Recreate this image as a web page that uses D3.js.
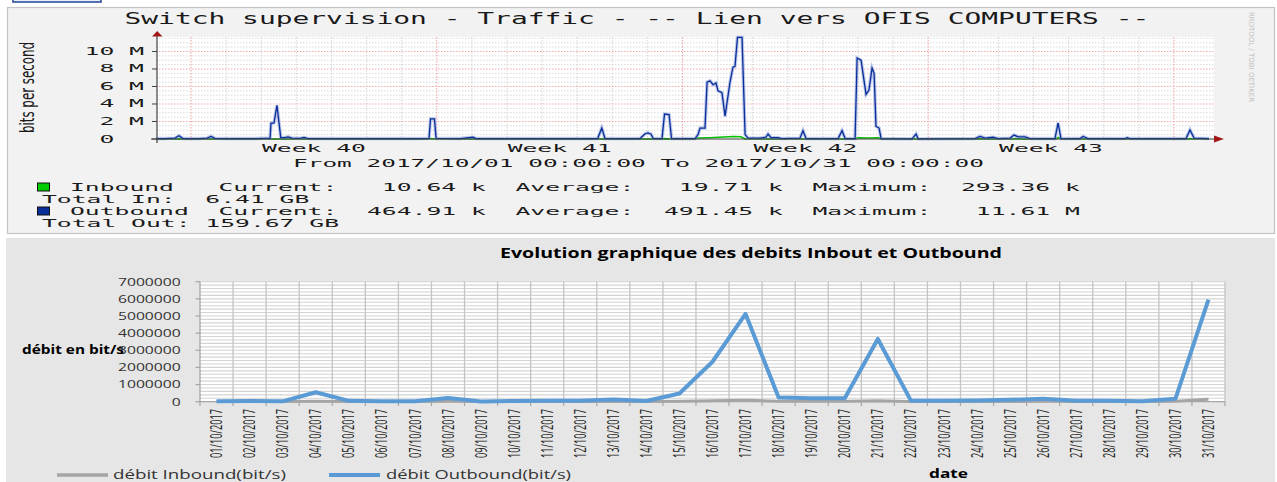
<!DOCTYPE html>
<html><head><meta charset="utf-8">
<script src="https://cdn.jsdelivr.net/npm/d3@7"></script>
<style>body{margin:0;background:#fff}svg{display:block}text{white-space:pre}</style>
</head><body><svg id="c" width="1277" height="482"></svg>
<script>
// ---------------- TOP (RRDtool) DATA ----------------
const topTitle = "Switch supervision - Traffic - -- Lien vers OFIS COMPUTERS --";
const topYLabel = "bits per second";
const topPeriod = "From 2017/10/01 00:00:00 To 2017/10/31 00:00:00";
const topYTicks = [0, 2e6, 4e6, 6e6, 8e6, 10e6];
const topYTickLabels = ["0", "2 M", "4 M", "6 M", "8 M", "10 M"];
const weekLabels = ["Week 40", "Week 41", "Week 42", "Week 43"];
const weekCenterHours = [108, 276, 444, 612];       // hours since 2017-10-01 00:00
const weekStartHours = [24, 192, 360, 528, 696];    // Mondays 00:00
// outbound, hours since 2017-10-01 00:00 and bits/s
const outHours = [0,6,13,15.7,18.5,30,35,37.6,40.3,47,68,75,78,78.6,80.7,82.7,85.3,88,90.3,93,98.5,101.2,104,126,153,180,186.7,187.7,190.4,191.5,208,216.8,218.8,256,302,304.8,307,331,334.4,336.4,338.5,340,346,347.7,350.8,352.5,368.6,370.6,372,375.4,376.8,378.8,380.9,382.9,384.3,387,389.1,392.5,394.5,395.9,397.6,400.7,402.8,404.8,413,417.1,418.5,420.5,425.3,428,440.3,442.4,444.5,466.4,469.1,471.2,478,479.4,482.1,485.5,487.5,489.6,491,492.3,494.4,495.8,517,519.7,521.1,560,563.5,566.9,572.3,575.8,584,586.7,589.4,594.2,597.6,614.7,616.8,618.8,631.8,633.9,637.3,662.6,664,666,704.3,707,709.8,720];
const outBps = [50000,50000,100000,380000,50000,50000,100000,300000,80000,50000,50000,80000,80000,1800000,1850000,3850000,150000,150000,250000,100000,80000,180000,50000,50000,50000,50000,80000,2300000,2300000,80000,50000,200000,50000,50000,50000,1260000,50000,50000,600000,700000,550000,50000,50000,2850000,2800000,50000,50000,500000,1250000,1250000,6500000,6650000,6200000,6400000,5500000,5300000,2600000,6500000,8200000,8300000,11610000,11610000,500000,100000,100000,200000,570000,150000,150000,50000,100000,950000,50000,50000,950000,50000,50000,9250000,9000000,5100000,5600000,8100000,7500000,1450000,1250000,50000,20000,570000,20000,50000,300000,100000,200000,50000,100000,450000,250000,250000,50000,50000,1830000,50000,50000,300000,50000,50000,150000,50000,50000,1030000,100000,50000];
const inHours = [0,14,16,18,186,188,191,300,346,348,352,368,371,378,385,395,400,403,478,480,487,494,496,560,563,566,586,588,591,615,617,619,706,707,709,720];
const inBps = [8000,8000,30000,8000,8000,50000,8000,8000,8000,40000,8000,8000,120000,150000,200000,293360,250000,8000,8000,150000,120000,150000,8000,8000,40000,8000,8000,60000,8000,8000,180000,8000,8000,60000,8000,8000];
const legendNames = ["Inbound", "Outbound"];
const legendCurrent = ["10.64 k", "464.91 k"];
const legendAverage = ["19.71 k", "491.45 k"];
const legendMaximum = ["293.36 k", "11.61 M"];
const totalLabels = ["Total In:", "Total Out:"];
const totalValues = ["6.41 GB", "159.67 GB"];
const legendColors = ["#00CC00", "#0A2E9A"];

// ---------------- BOTTOM (Excel) DATA ----------------
const bottomTitle = "Evolution graphique des debits Inbout et Outbound";
const dates = ["01/10/2017","02/10/2017","03/10/2017","04/10/2017","05/10/2017","06/10/2017","07/10/2017","08/10/2017","09/10/2017","10/10/2017","11/10/2017","12/10/2017","13/10/2017","14/10/2017","15/10/2017","16/10/2017","17/10/2017","18/10/2017","19/10/2017","20/10/2017","21/10/2017","22/10/2017","23/10/2017","24/10/2017","25/10/2017","26/10/2017","27/10/2017","28/10/2017","29/10/2017","30/10/2017","31/10/2017"];
const inboundDaily = [10000,12000,8000,30000,10000,8000,8000,20000,6000,10000,12000,12000,15000,10000,30000,60000,90000,25000,20000,20000,50000,10000,10000,12000,15000,20000,10000,10000,8000,30000,140000];
const outboundDaily = [30000,40000,20000,550000,50000,20000,20000,220000,10000,40000,50000,50000,130000,40000,480000,2330000,5120000,240000,200000,200000,3660000,60000,50000,70000,110000,170000,60000,50000,30000,170000,5950000];
const bottomYTicks = [0,1000000,2000000,3000000,4000000,5000000,6000000,7000000];
const seriesNames = ["débit Inbound(bit/s)", "débit Outbound(bit/s)"];
const seriesColors = ["#A5A5A5", "#5B9BD5"];

// ======================================================
const svg = d3.select("#c");
const MONO = "'DejaVu Sans Mono', monospace";
const CW = 14.85; // stretched monospace cell width

function monoText(g, str, x, y, size, cw, anchor) {
  return g.append("text").attr("x", x).attr("y", y)
    .attr("font-family", MONO).attr("font-size", size).attr("fill", "#1a1a1a")
    .attr("text-anchor", anchor || "start")
    .attr("textLength", str.length * cw).attr("lengthAdjust", "spacingAndGlyphs")
    .attr("xml:space", "preserve").text(str);
}

// ---------- TOP PANEL ----------
const topG = svg.append("g");
topG.append("rect").attr("x", 13).attr("y", -5).attr("width", 88).attr("height", 7)
  .attr("fill", "#E8EEF8").attr("stroke", "#2E4E9E").attr("stroke-width", 1.6);
topG.append("rect").attr("x", 7.5).attr("y", 7.5).attr("width", 1267).attr("height", 226)
  .attr("fill", "#F2F2F2").attr("stroke", "#C4C4C4").attr("stroke-width", 1.2);

const xT = d3.scaleLinear().domain([0, 720]).range([156, 1209]);
const yT = d3.scaleLinear().domain([0, 11.62e6]).range([139, 37.3]);

topG.append("rect").attr("x", 156).attr("y", 37).attr("width", 1058).attr("height", 102).attr("fill", "#FFFFFF");

// grid
const minorY = d3.range(5e5, 11.62e6, 5e5).filter(v => v % 2e6 !== 0);
const majorY = d3.range(2e6, 11.62e6, 2e6);
topG.selectAll(".gym").data(minorY).join("line")
  .attr("x1", 156).attr("x2", 1214).attr("y1", d => yT(d)).attr("y2", d => yT(d))
  .attr("stroke", "#D6D6D6").attr("stroke-width", 0.9).attr("stroke-dasharray", "1.5,1.5");
const dayHours = d3.range(24, 720, 24).filter(h => !weekStartHours.includes(h));
topG.selectAll(".gxm").data(dayHours).join("line")
  .attr("x1", d => xT(d)).attr("x2", d => xT(d)).attr("y1", 37).attr("y2", 139)
  .attr("stroke", "#D0D0D0").attr("stroke-width", 0.9).attr("stroke-dasharray", "1.5,1.5");
topG.selectAll(".gyM").data(majorY).join("line")
  .attr("x1", 156).attr("x2", 1214).attr("y1", d => yT(d)).attr("y2", d => yT(d))
  .attr("stroke", "#F0A8A8").attr("stroke-width", 1).attr("stroke-dasharray", "1.5,1.5");
topG.selectAll(".gxM").data(weekStartHours).join("line")
  .attr("x1", d => xT(d)).attr("x2", d => xT(d)).attr("y1", 37).attr("y2", 141)
  .attr("stroke", "#F0A0A0").attr("stroke-width", 1).attr("stroke-dasharray", "1.5,1.5");

// series
const lineIn = d3.line().x((d, i) => xT(inHours[i])).y(d => yT(d));
const lineOut = d3.line().x((d, i) => xT(outHours[i])).y(d => yT(d));
topG.append("path").attr("d", lineIn(inBps)).attr("fill", "none").attr("stroke", "#00C000").attr("stroke-width", 1.6);
topG.append("path").attr("d", lineOut(outBps)).attr("fill", "none").attr("stroke", "#8EA2DA").attr("stroke-width", 3.4).attr("stroke-opacity", 0.6);
topG.append("path").attr("d", lineOut(outBps)).attr("fill", "none").attr("stroke", "#0A2E9A").attr("stroke-width", 1.3);

// axes
topG.append("line").attr("x1", 151).attr("x2", 1214).attr("y1", 139).attr("y2", 139).attr("stroke", "#404040").attr("stroke-width", 1.2);
topG.append("line").attr("x1", 157).attr("x2", 157).attr("y1", 143).attr("y2", 36).attr("stroke", "#404040").attr("stroke-width", 1.2);
topG.append("path").attr("d", "M152,36.5 L162.5,36.5 L157.2,31 Z").attr("fill", "#A01818");
topG.append("path").attr("d", "M1214,135.5 L1214,142.5 L1224,139 Z").attr("fill", "#A01818");
topG.selectAll(".ytm").data(topYTicks).join("line")
  .attr("x1", 152).attr("x2", 157).attr("y1", d => yT(d)).attr("y2", d => yT(d)).attr("stroke", "#404040");

// y tick labels
topYTicks.forEach((v, i) => {
  const lab = topYTickLabels[i];
  const endX = lab === "0" ? 144 - 2 * CW : 144;
  monoText(topG, lab, endX, yT(v) + 3.5, 9.8, CW, "end");
});
// y label
topG.append("text").attr("transform", "translate(33.5,87.5) scale(2,1) rotate(-90)")
  .attr("text-anchor", "middle").attr("font-family", "'DejaVu Sans', sans-serif").attr("font-size", 10)
  .attr("fill", "#1a1a1a").attr("textLength", 91).attr("lengthAdjust", "spacingAndGlyphs").text(topYLabel);

// title
monoText(topG, topTitle, 124.5, 24, 15, 16.8, "start");
weekLabels.forEach((w, i) => monoText(topG, w, xT(weekCenterHours[i]), 152, 10.8, CW, "middle"));
monoText(topG, topPeriod, 293, 167, 11, 14.7, "start");

// rrdtool watermark
topG.append("text").attr("transform", "translate(1249,12) rotate(90)")
  .attr("font-family", "'DejaVu Sans', sans-serif").attr("font-size", 7).attr("fill", "#BDBDBD")
  .attr("textLength", 90).attr("lengthAdjust", "spacingAndGlyphs").text("RRDTOOL / TOBI OETIKER");

// legend
const legBase = [191, 215];
const totBase = [203, 226.5];
legendNames.forEach((n, i) => {
  topG.append("rect").attr("x", 37.5).attr("y", legBase[i] - 8).attr("width", 12).attr("height", 8)
    .attr("fill", legendColors[i]).attr("stroke", "#111").attr("stroke-width", 1);
  const line = n.padEnd(10) + "Current:" + legendCurrent[i].padStart(10) + "  Average:" +
    legendAverage[i].padStart(10) + "  Maximum:" + legendMaximum[i].padStart(10);
  monoText(topG, line, 70, legBase[i], 11.3, CW, "start");
  const tl = totalLabels[i].padEnd(11) + totalValues[i];
  monoText(topG, tl, 42, totBase[i], 11.3, CW, "start");
});

// ---------- BOTTOM PANEL ----------
const bot = svg.append("g");
bot.append("rect").attr("x", 6).attr("y", 238).attr("width", 1269).attr("height", 244).attr("fill", "#E6E6E6");
const OPEN = "'Open Sans', sans-serif";

const xB = d3.scaleBand().domain(dates).range([200, 1225]);
const yB = d3.scaleLinear().domain([0, 7000000]).range([401.7, 281.7]);

bot.append("rect").attr("x", 200).attr("y", 281.7).attr("width", 1025).attr("height", 120).attr("fill", "#FFFFFF");
const minorB = d3.range(200000, 7000001, 200000);
bot.selectAll(".bgy").data(minorB).join("line")
  .attr("x1", 200).attr("x2", 1225).attr("y1", d => yB(d)).attr("y2", d => yB(d))
  .attr("stroke", "#D3D3D3").attr("stroke-width", 1.1);
const bounds = dates.map(d => xB(d)).concat([xB.range()[1]]);
bot.selectAll(".bgx").data(bounds.slice(1)).join("line")
  .attr("x1", d => d).attr("x2", d => d).attr("y1", 281.7).attr("y2", 401.7)
  .attr("stroke", "#C4C4C4").attr("stroke-width", 1.3);
bot.append("line").attr("x1", 200).attr("x2", 200).attr("y1", 281.7).attr("y2", 401.7).attr("stroke", "#A6A6A6").attr("stroke-width", 1.3);
bot.append("line").attr("x1", 200).attr("x2", 1225).attr("y1", 401.7).attr("y2", 401.7).attr("stroke", "#A6A6A6").attr("stroke-width", 1.3);
bot.selectAll(".ytk").data(bottomYTicks).join("line")
  .attr("x1", 195.5).attr("x2", 200).attr("y1", d => yB(d)).attr("y2", d => yB(d)).attr("stroke", "#A6A6A6").attr("stroke-width", 1.2);
bot.selectAll(".xtk").data(bounds).join("line")
  .attr("x1", d => d).attr("x2", d => d).attr("y1", 401.7).attr("y2", 406).attr("stroke", "#A6A6A6").attr("stroke-width", 1.2);

bot.selectAll(".ylb").data(bottomYTicks).join("text")
  .attr("x", 180.7).attr("y", d => yB(d) + 3.8).attr("text-anchor", "end")
  .attr("font-family", OPEN).attr("font-size", 10.8).attr("fill", "#333")
  .attr("textLength", d => String(d).length * 8.96).attr("lengthAdjust", "spacingAndGlyphs")
  .text(d => d3.format("d")(d));
bot.selectAll(".xlb").data(dates).join("text")
  .attr("transform", d => `translate(${xB(d) + xB.bandwidth() / 2 + 5.6},409) scale(1.5,1) rotate(-90)`)
  .attr("text-anchor", "end").attr("font-family", OPEN).attr("font-size", 10.5).attr("fill", "#222")
  .attr("textLength", 49).attr("lengthAdjust", "spacingAndGlyphs").text(d => d);

const cx = d => xB(d) + xB.bandwidth() / 2;
const lineB = d3.line().x((v, i) => cx(dates[i])).y(v => yB(v));
bot.append("path").attr("d", lineB(inboundDaily)).attr("fill", "none").attr("stroke", seriesColors[0]).attr("stroke-width", 3).attr("stroke-linejoin", "round");
bot.append("path").attr("d", lineB(outboundDaily)).attr("fill", "none").attr("stroke", seriesColors[1]).attr("stroke-width", 4).attr("stroke-linejoin", "round");

bot.append("text").attr("x", 500).attr("y", 257.5).attr("font-family", OPEN).attr("font-weight", 700)
  .attr("font-size", 13.5).attr("fill", "#000").attr("textLength", 502).attr("lengthAdjust", "spacingAndGlyphs").text(bottomTitle);
bot.append("text").attr("x", 22).attr("y", 354).attr("font-family", OPEN).attr("font-weight", 700)
  .attr("font-size", 12).attr("fill", "#000").attr("textLength", 102).attr("lengthAdjust", "spacingAndGlyphs").text("débit en bit/s");
bot.append("text").attr("x", 929).attr("y", 478).attr("font-family", OPEN).attr("font-weight", 700)
  .attr("font-size", 13).attr("fill", "#000").attr("textLength", 39).attr("lengthAdjust", "spacingAndGlyphs").text("date");

const legX = [57, 329], legTX = [113, 386], legTL = [173, 185];
seriesNames.forEach((n, i) => {
  bot.append("line").attr("x1", legX[i]).attr("x2", legX[i] + 51).attr("y1", 475).attr("y2", 475)
    .attr("stroke", seriesColors[i]).attr("stroke-width", i === 0 ? 3.5 : 4);
  bot.append("text").attr("x", legTX[i]).attr("y", 478.5).attr("font-family", OPEN).attr("font-size", 13)
    .attr("fill", "#333").attr("textLength", legTL[i]).attr("lengthAdjust", "spacingAndGlyphs").text(n);
});
</script></body></html>
